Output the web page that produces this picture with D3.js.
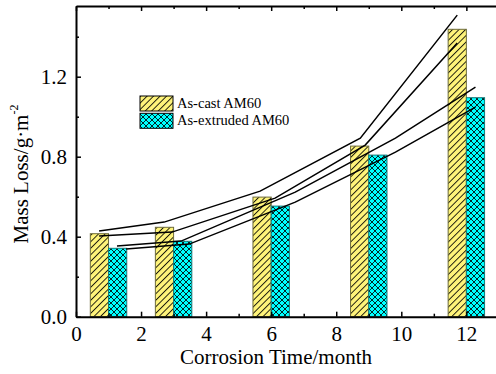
<!DOCTYPE html>
<html>
<head>
<meta charset="utf-8">
<script src="https://cdn.jsdelivr.net/npm/d3@7"></script>
<style>
  html, body { margin: 0; padding: 0; background: #fff; }
  svg text { fill: #000; }
</style>
</head>
<body>
<svg id="chart" width="496" height="374"></svg>
<script>
/* ── Data ───────────────────────────────────────────────────────────── */
const months     = [1, 3, 6, 9, 12];
const asCast     = [0.415, 0.447, 0.598, 0.853, 1.437];
const asExtruded = [0.342, 0.377, 0.553, 0.808, 1.095];
const seriesNames = ['As-cast AM60', 'As-extruded AM60'];
const xTicks = [0, 2, 4, 6, 8, 10, 12];
const yTicks = [0.0, 0.4, 0.8, 1.2];

// hand-drawn trend lines, [month, mass loss]
const lineA = [[0.71, 0.428], [2.71, 0.473], [5.66, 0.628], [8.74, 0.893], [11.72, 1.508]];
const lineB = [[0.71, 0.403], [2.95, 0.423], [6.12, 0.593], [8.89, 0.858], [11.72, 1.368]];
const lineC = [[1.26, 0.353], [3.23, 0.378], [6.74, 0.623], [9.82, 0.893], [12.28, 1.148]];
const lineD = [[1.54, 0.338], [3.48, 0.363], [6.74, 0.573], [9.82, 0.823], [12.28, 1.048]];

const SERIF = "'Liberation Serif', 'Times New Roman', serif";

/* ── Layout ─────────────────────────────────────────────────────────── */
const svg = d3.select('#chart');
const M = { l: 76, t: 6, b: 316.7 };
const x = d3.scaleLinear().domain([0, 13]).range([M.l, M.l + 13 * 32.53]);
const y = d3.scaleLinear().domain([0, 1.5535]).range([M.b, M.t]);
const barW = x(0.56) - x(0);

/* ── Patterns ───────────────────────────────────────────────────────── */
const defs = svg.append('defs');
const pY = defs.append('pattern').attr('id', 'hatchY').attr('patternUnits', 'userSpaceOnUse')
  .attr('width', 4.6).attr('height', 4.6).attr('patternTransform', 'rotate(45)');
pY.append('rect').attr('width', 4.6).attr('height', 4.6).attr('fill', '#fff47a');
pY.append('line').attr('x1', 0.5).attr('x2', 0.5).attr('y1', 0).attr('y2', 4.6)
  .attr('stroke', '#000').attr('stroke-width', 0.85);

const pC = defs.append('pattern').attr('id', 'crossC').attr('patternUnits', 'userSpaceOnUse')
  .attr('width', 6).attr('height', 6);
pC.append('rect').attr('width', 6).attr('height', 6).attr('fill', '#00ffff');
pC.append('path').attr('d', 'M0,0L6,6M6,0L0,6M-1,5L1,7M5,-1L7,1M-1,1L1,-1M5,7L7,5')
  .attr('stroke', '#000').attr('stroke-width', 0.85).attr('fill', 'none');

/* ── Bars ───────────────────────────────────────────────────────────── */
const bars = svg.append('g');
bars.selectAll('rect.cast').data(months).join('rect')
  .attr('x', (m) => x(m) - barW).attr('width', barW)
  .attr('y', (m, i) => y(asCast[i])).attr('height', (m, i) => y(0) - y(asCast[i]))
  .attr('fill', 'url(#hatchY)').attr('stroke', '#6e6c3a').attr('stroke-width', 1);
bars.selectAll('rect.ext').data(months).join('rect')
  .attr('x', (m) => x(m)).attr('width', barW)
  .attr('y', (m, i) => y(asExtruded[i])).attr('height', (m, i) => y(0) - y(asExtruded[i]))
  .attr('fill', 'url(#crossC)').attr('stroke', '#127a7a').attr('stroke-width', 1);

/* ── Trend lines ────────────────────────────────────────────────────── */
const line = d3.line().x(d => x(d[0])).y(d => y(d[1]));
[lineA, lineB, lineC, lineD].forEach(pts => {
  svg.append('path').attr('d', line(pts)).attr('fill', 'none')
    .attr('stroke', '#000').attr('stroke-width', 1.5);
});

/* ── Axes ───────────────────────────────────────────────────────────── */
const minorX = d3.range(0, 14, 1).filter(v => v % 2);
const minorY = [0.2, 0.6, 1.0, 1.4];

function styleAxis(g, labels) {
  g.attr('font-family', SERIF);
  g.select('.domain').attr('stroke-width', 2);
  g.selectAll('.tick line').attr('stroke-width', 1.5);
  if (labels) g.selectAll('text').attr('font-size', 21).attr('font-family', SERIF);
}
function minor(g) {
  g.select('.domain').remove();
  g.selectAll('.tick line').attr('stroke-width', 1.5);
}

svg.append('g').attr('transform', `translate(0,${M.b})`)
  .call(d3.axisBottom(x).tickValues(xTicks).tickSize(-5).tickSizeOuter(0).tickPadding(9).tickFormat(d3.format('d')))
  .call(g => styleAxis(g, true));
svg.append('g').attr('transform', `translate(0,${M.b})`)
  .call(d3.axisBottom(x).tickValues(minorX).tickSize(-3).tickSizeOuter(0).tickFormat(''))
  .call(minor);

svg.append('g').attr('transform', `translate(0,${M.t})`)
  .call(d3.axisTop(x).tickValues(xTicks).tickSize(-5).tickSizeOuter(0).tickFormat(''))
  .call(g => styleAxis(g, false));
svg.append('g').attr('transform', `translate(0,${M.t})`)
  .call(d3.axisTop(x).tickValues(minorX).tickSize(-3).tickSizeOuter(0).tickFormat(''))
  .call(minor);

svg.append('g').attr('transform', `translate(${M.l},0)`)
  .call(d3.axisLeft(y).tickValues(yTicks).tickSize(-5).tickSizeOuter(0).tickPadding(9).tickFormat(d3.format('.1f')))
  .call(g => styleAxis(g, true));
svg.append('g').attr('transform', `translate(${M.l},0)`)
  .call(d3.axisLeft(y).tickValues(minorY).tickSize(-3).tickSizeOuter(0).tickFormat(''))
  .call(minor);

/* ── Titles ─────────────────────────────────────────────────────────── */
svg.append('text').attr('x', 276).attr('y', 364).attr('text-anchor', 'middle')
  .attr('font-family', SERIF).attr('font-size', 21).text('Corrosion Time/month');

const yt = svg.append('text').attr('transform', 'translate(28,174) rotate(-90)')
  .attr('text-anchor', 'middle').attr('font-family', SERIF).attr('font-size', 21);
yt.append('tspan').text('Mass Loss/g\u00b7m');
yt.append('tspan').attr('font-size', 12).attr('dy', -10).text('-2');

/* ── Legend ─────────────────────────────────────────────────────────── */
const fills = ['url(#hatchY)', 'url(#crossC)'];
const lg = svg.append('g').attr('transform', 'translate(140,96)');
seriesNames.forEach((name, i) => {
  lg.append('rect').attr('x', 0).attr('y', i * 17.3).attr('width', 33).attr('height', 15)
    .attr('fill', fills[i]).attr('stroke', '#000').attr('stroke-width', 1);
  lg.append('text').attr('x', 37).attr('y', i * 17.3 + 12).attr('font-family', SERIF)
    .attr('font-size', 14.5).text(name);
});
</script>
</body>
</html>
